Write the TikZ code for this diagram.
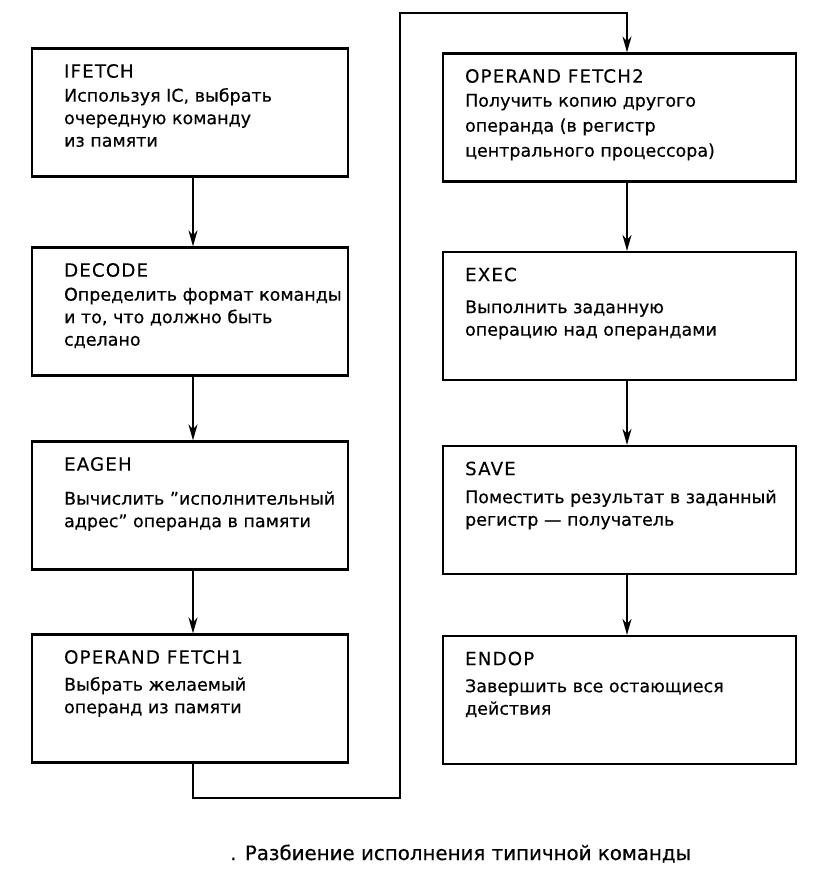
\documentclass[tikz,border=0pt]{standalone}
\usepackage{fontspec}
\setmainfont[FakeBold=0.5]{DejaVu Sans}
\newfontfamily\titleface[LetterSpace=6,FakeBold=0.2]{DejaVu Sans}
\usepackage{tikz}
\usetikzlibrary{arrows.meta}

\newcommand\stepfont{\fontsize{17.5pt}{22.5pt}\selectfont}
\newcommand\titlefont{\titleface\fontsize{18.3pt}{22.5pt}\selectfont}
\newcommand\capfont{\fontsize{19.8pt}{24pt}\selectfont}

\tikzset{
  leftbox/.style={draw,line width=2.2pt,minimum width=316pt,minimum height=128pt,inner sep=0pt},
  rightbox/.style={draw,line width=2.2pt,minimum width=353pt,minimum height=128pt,inner sep=0pt},
  boxtext/.style={anchor=north west,inner sep=0pt,align=left,font=\stepfont},
  flow/.style={line width=1.7pt,-{Stealth[length=16pt,width=9pt,inset=5pt]}}
}

\begin{document}
\begin{tikzpicture}
	 [x=1pt,y=-1pt]

	  \useasboundingbox (0,0) rectangle (835,871);

	  % columns of the connectors
	  \coordinate (lcol) at (193,0);
	  \coordinate (rcol) at (627,0);

	  % left column
	  \node[leftbox] (ifetch) at (190,112.5) {};
	  \node[leftbox] (decode) at (190,311.5) {};
	  \node[leftbox] (eageh) at (190,505.5) {};
	  \node[leftbox] (opfa) at (190,698.5) {};

	  % right column
	  \node[rightbox] (opfb) at (619.5,117.5) {};
	  \node[rightbox] (exec) at (619.5,316) {};
	  \node[rightbox] (save) at (619.5,510) {};
	  \node[rightbox] (endop) at (619.5,700) {};

	  \node[boxtext] (t-ifetch) at ([xshift=33pt,yshift=-16.5pt]ifetch.north west)
	    {{\titlefont IFETCH}\\[1.5pt] Используя IC, выбрать\\ очередную команду\\ из памяти};
	  \node[boxtext] (t-decode) at ([xshift=33pt,yshift=-16.5pt]decode.north west)
	    {{\titlefont DECODE}\\[1.5pt] Определить формат команды\\ и то, что должно быть\\ сделано};
	  \node[boxtext] (t-eageh) at ([xshift=33pt,yshift=-16.5pt]eageh.north west)
	    {{\titlefont EAGEH}\\[11.5pt] Вычислить ''исполнительный\\ адрес'' операнда в памяти};
	  \node[boxtext] (t-opfa) at ([xshift=33pt,yshift=-16.5pt]opfa.north west)
	    {{\titlefont OPERAND FETCH1}\\[4.5pt] Выбрать желаемый\\ операнд из памяти};

	  \node[boxtext] (t-opfb) at ([xshift=23pt,yshift=-16.5pt]opfb.north west)
	    {{\titlefont OPERAND FETCH2}\\[1.5pt] Получить копию другого\\[2.5pt] операнда (в регистр\\[2.5pt] центрального процессора)};
	  \node[boxtext] (t-exec) at ([xshift=23pt,yshift=-16.5pt]exec.north west)
	    {{\titlefont EXEC}\\[9.5pt] Выполнить заданную\\ операцию над операндами};
	  \node[boxtext] (t-save) at ([xshift=23pt,yshift=-16.5pt]save.north west)
	    {{\titlefont SAVE}\\[5.5pt] Поместить результат в заданный\\ регистр — получатель};
	  \node[boxtext] (t-endop) at ([xshift=23pt,yshift=-16.5pt]endop.north west)
	    {{\titlefont ENDOP}\\[4.5pt] Завершить все остающиеся\\ действия};

	\foreach \from/\to in {ifetch/decode,decode/eageh,eageh/opfa}
    \draw[flow] (\from.south -| lcol) -- (\to.north -| lcol);
	\foreach \from/\to in {opfb/exec,exec/save,save/endop}
    \draw[flow] (\from.south -| rcol) -- (\to.north -| rcol);

	  % loop from the bottom of the left column to the top of the right one
	  \coordinate (loopb) at (400,798);
	  \coordinate (loopt) at (400,13);
	  \draw[flow] (opfa.south -| lcol) |- (loopb) -- (loopt) -| (opfb.north -| rcol);

	  \node[anchor=base west,inner sep=0pt,font=\capfont] (caption) at (230,860)
	    {. Разбиение исполнения типичной команды};

\end{tikzpicture}
\end{document}
